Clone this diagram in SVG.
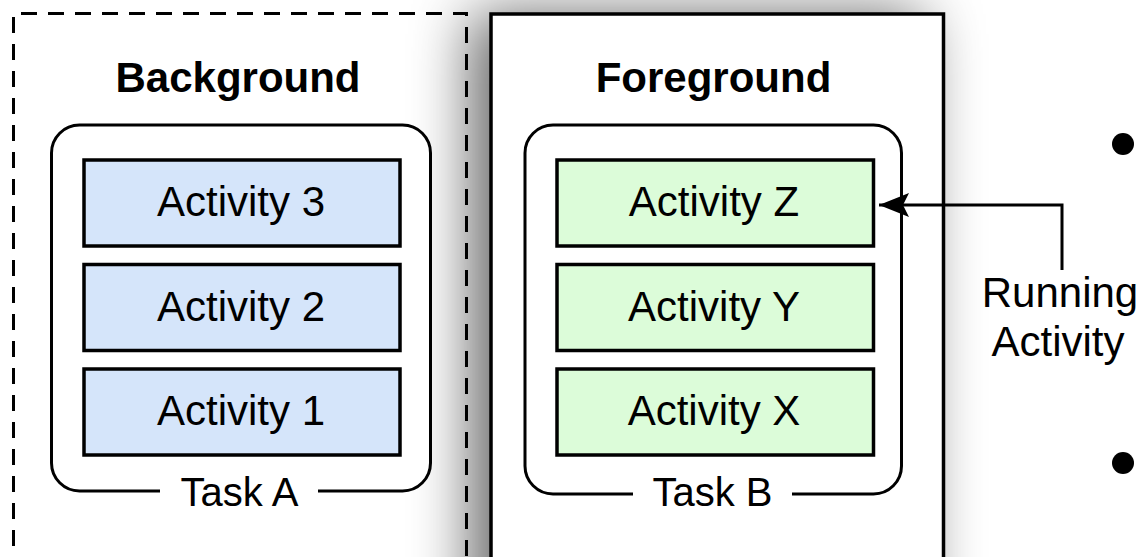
<svg xmlns="http://www.w3.org/2000/svg" width="1139" height="557" viewBox="0 0 1139 557">
<style>
text{font-family:"Liberation Sans",Arial,sans-serif;fill:#000}
.title{font-size:42px;font-weight:bold;text-anchor:middle}
.lbl{font-size:42px;text-anchor:middle}
.task{font-size:40px;text-anchor:middle}
.act-b{fill:#d5e5fa;stroke:#000;stroke-width:3.5}
.act-f{fill:#dcfcd9;stroke:#000;stroke-width:3.5}
.taskbox{fill:#fff;stroke:#000;stroke-width:3}
.conn{fill:none;stroke:#000;stroke-width:3}
</style>
<defs>
<filter id="sh" filterUnits="userSpaceOnUse" x="300" y="-150" width="800" height="900">
<feGaussianBlur stdDeviation="30"/>
</filter>
<marker id="ah" markerUnits="userSpaceOnUse" markerWidth="32" markerHeight="26" refX="30" refY="13" orient="auto">
<path d="M0,1 L30,13 L0,25 L6,13 Z" fill="#000"/>
</marker>
</defs>
<rect width="1139" height="557" fill="#fff"/>
<!-- foreground shadow -->
<rect x="471" y="14" width="452" height="620" fill="#000" opacity="0.6" filter="url(#sh)"/>
<g id="background-area">
<path d="M13.5,600 V13.5 H466.5 V600" fill="none" stroke="#000" stroke-width="3" stroke-dasharray="16 11"/>
<text class="title" x="238" y="92">Background</text>
</g>
<g id="foreground-area">
<rect x="491" y="14" width="452.5" height="620" fill="#fff" stroke="#000" stroke-width="3.5"/>
<text class="title" x="713.5" y="92">Foreground</text>
</g>
<g id="task-a">
<rect class="taskbox" x="51.5" y="125" width="379" height="366" rx="28" ry="28"/>
<rect x="160" y="480" width="158" height="20" fill="#fff"/>
<text class="task" x="239.5" y="506">Task A</text>
</g>
<g id="task-b">
<rect class="taskbox" x="525" y="125" width="376.5" height="369" rx="28" ry="28"/>
<rect x="633" y="480" width="159" height="20" fill="#fff"/>
<text class="task" x="712.5" y="506">Task B</text>
</g>
<g id="activity-3">
<rect class="act-b" x="84" y="160" width="316" height="86"/>
<text class="lbl" x="241" y="216">Activity 3</text>
</g>
<g id="activity-2">
<rect class="act-b" x="84" y="264.5" width="316" height="86"/>
<text class="lbl" x="241" y="320.5">Activity 2</text>
</g>
<g id="activity-1">
<rect class="act-b" x="84" y="369" width="316" height="86"/>
<text class="lbl" x="241" y="425">Activity 1</text>
</g>
<g id="activity-z">
<rect class="act-f" x="557" y="160" width="316.5" height="86"/>
<text class="lbl" x="714" y="216">Activity Z</text>
</g>
<g id="activity-y">
<rect class="act-f" x="557" y="264.5" width="316.5" height="86"/>
<text class="lbl" x="714" y="320.5">Activity Y</text>
</g>
<g id="activity-x">
<rect class="act-f" x="557" y="369" width="316.5" height="86"/>
<text class="lbl" x="714" y="425">Activity X</text>
</g>
<g id="running-activity">
<text class="lbl" x="1060" y="307">Running</text>
<text class="lbl" x="1058" y="356">Activity</text>
</g>
<g id="bullets">
<circle cx="1123" cy="144" r="11" fill="#000"/>
<circle cx="1123" cy="463" r="11" fill="#000"/>
</g>
<g id="connectors">
<path class="conn" d="M1062,270 V205 H879" marker-end="url(#ah)"/>
</g>
</svg>
